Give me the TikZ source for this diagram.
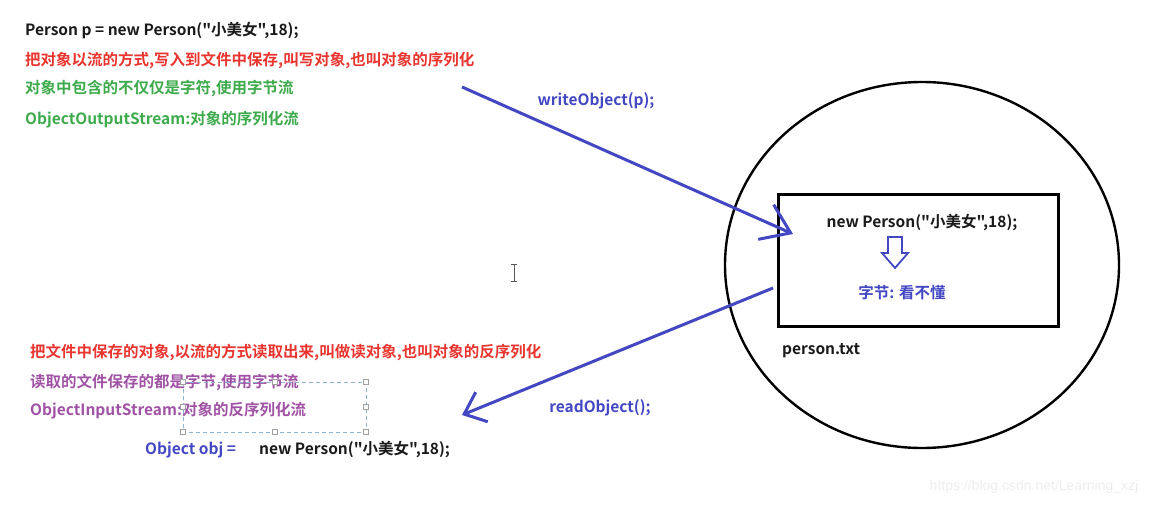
\documentclass[tikz,border=0pt]{standalone}
\usepackage{fontspec}
\setmainfont{Noto Sans CJK SC}[BoldFont={Noto Sans CJK SC Bold},Ligatures=TeXOff]
\newfontfamily\urlfont{Liberation Sans}
\usetikzlibrary{arrows.meta,shapes.geometric}
\definecolor{inkblack}{HTML}{1A1A1A}
\definecolor{inkred}{HTML}{E8352F}
\definecolor{inkgreen}{HTML}{3DAA4C}
\definecolor{inkpurple}{HTML}{A052A4}
\definecolor{inkblue}{HTML}{4347C2}
\definecolor{selectblue}{HTML}{8DB3D0}

\begin{document}
\begin{tikzpicture}[
    x=1pt,y=-1pt,
    note/.style={anchor=west,inner sep=0pt,font=\fontsize{15.5}{18}\selectfont\bfseries},
    stream/.style={line width=3pt,draw=inkblue},
    handle/.style={draw=gray!75,fill=white,line width=.6pt,minimum size=4.5pt,inner sep=0pt}
  ]
    \useasboundingbox (0,0) rectangle (1161,505);

    % serialisation notes
    \node[note,text=inkblack] (decl) at (25,31) {Person p = new Person("小美女",18);};
    \node[note,text=inkred] (wnote) at (25,60) {把对象以流的方式,写入到文件中保存,叫写对象,也叫对象的序列化};
    \node[note,text=inkgreen] (wbytes) at (25,89) {对象中包含的不仅仅是字符,使用字节流};
    \node[note,text=inkgreen] (wclass) at (25,120) {ObjectOutputStream:对象的序列化流};

    % deserialisation notes
    \node[note,text=inkred] (rnote) at (30,352) {把文件中保存的对象,以流的方式读取出来,叫做读对象,也叫对象的反序列化};
    \node[note,text=inkpurple] (rbytes) at (30,382) {读取的文件保存的都是字节,使用字节流};
    \node[note,text=inkpurple] (rclass) at (30,411) {ObjectInputStream:对象的反序列化流};
    \node[note,text=inkblue] (objdecl) at (145,450) {Object obj =};
    \node[note,text=inkblack] (objnew) at (259,450) {new Person("小美女",18);};

    % selection frame
    \draw[selectblue,line width=.8pt,dash pattern=on 4pt off 3pt] (183,382) rectangle (366,432);
    \foreach \hx/\hy in {183/382,275/382,366/382,183/407,366/407,183/432,275/432,366/432}
      \node[handle] at (\hx,\hy) {};

    % file
    \node[ellipse,draw=black,line width=2.4pt,minimum width=394pt,minimum height=366pt]
      (filecircle) at (922,265) {};
    \node[draw=black,line width=3pt,minimum width=280pt,minimum height=131pt]
      (filebox) at (918,260.5) {};
    \node[note,anchor=center,text=inkblack] (content) at (922,223) {new Person("小美女",18);};
    \node[note,anchor=center,text=inkblue] (bytes) at (902,293) {字节: 看不懂};
    \node[note,text=inkblack] (fname) at (782,351) {person.txt};
    \coordinate (down) at (895,237);
    \draw[inkblue,line width=1.8pt,line join=miter]
      (down) ++(-7,0) -- ++(14,0) -- ++(0,16) -- ++(6,0) -- ++(-13,15) -- ++(-13,-15) -- ++(6,0) -- cycle;

    % streams
    \coordinate (wstart) at (462,87);
    \coordinate (wend) at (793,234);
    \coordinate (rstart) at (773,288);
    \coordinate (rend) at (462,415);
    \draw[stream,-{Straight Barb[length=27pt,width=38pt]}] (wstart) -- (wend);
    \draw[stream,-{Straight Barb[length=19pt,width=32pt]}] (rstart) -- (rend);
    \node[note,anchor=center,text=inkblue] (write) at (596,101) {writeObject(p);};
    \node[note,anchor=center,text=inkblue] (read) at (600,408) {readObject();};

    % cursor
    \draw[gray!70!black,line width=1pt] (514,264) -- (514,281)
      (511,264) -- (517,264) (511,281) -- (517,281);

    \node[font=\urlfont\fontsize{14}{16}\selectfont,text=gray!14] (mark) at (1034,487)
      {https://blog.csdn.net/Learning\_xzj};
\end{tikzpicture}
\end{document}
